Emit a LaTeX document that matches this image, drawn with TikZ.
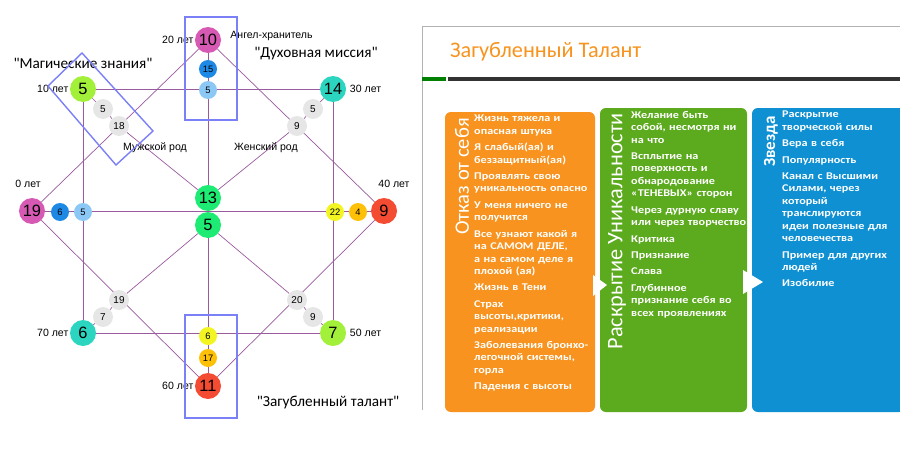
\documentclass[tikz,border=0pt]{standalone}
\usepackage{fontspec}
\setmainfont{Liberation Sans}
\newfontfamily\slidefont{Carlito}
\newfontfamily\slidewide[FakeStretch=1.18]{Carlito}
\usetikzlibrary{positioning,backgrounds}
\definecolor{cmag}{HTML}{D65AB4}
\definecolor{clime}{HTML}{A3F03A}
\definecolor{cteal}{HTML}{2CD5C0}
\definecolor{cred}{HTML}{F44B33}
\definecolor{cgreen}{HTML}{1EEB73}
\definecolor{cblue}{HTML}{1E88E5}
\definecolor{clblue}{HTML}{8CC8F5}
\definecolor{cyel}{HTML}{F2F522}
\definecolor{corange}{HTML}{FFC107}
\definecolor{cgray}{HTML}{E6E6E6}
\definecolor{cline}{HTML}{9A5A9E}
\definecolor{cframe}{HTML}{7C80F7}
\definecolor{boxor}{HTML}{F7931E}
\definecolor{boxgr}{HTML}{5CAA1E}
\definecolor{boxbl}{HTML}{0E90D2}
\tikzset{
  big/.style={circle, minimum size=0.78cm, inner sep=0pt, font=\fontsize{14}{14}\selectfont},
  small/.style={circle, minimum size=0.54cm, inner sep=0pt, font=\fontsize{8}{8}\selectfont},
  grey/.style={circle, fill=cgray, minimum size=0.6cm, inner sep=0pt, font=\fontsize{8.5}{8.5}\selectfont},
  age/.style={font=\fontsize{9}{9}\selectfont, inner sep=1pt},
  quote/.style={font=\slidefont\fontsize{13}{13}\selectfont, inner sep=1pt},
  link/.style={cline, line width=0.6pt},
  frame/.style={cframe, line width=1.2pt},
  panel/.style={rounded corners=5pt, draw=none},
  ptitle/.style={white, rotate=90, font=\slidefont\fontsize{17.5}{18}\selectfont, inner sep=0pt},
  plist/.style={white, anchor=north west, align=left, inner sep=0pt, font=\slidewide\bfseries\fontsize{8.8}{10.6}\selectfont},
  tri/.style={fill=white, draw=none}
}
\newcommand{\gap}{\par\vspace{3.4pt}}
\begin{document}
\begin{tikzpicture}[x=0.03cm, y=-0.03cm]
\useasboundingbox (0,0) rectangle (900,450);
% matrix nodes
\node (n10) [big, fill=cmag] at (208,40) {10};
\node (n15) [small, fill=cblue] at (208,69) {15};
\node (n5t) [small, fill=clblue] at (208,90) {5};
\node (n5l) [big, fill=clime] at (83,89) {5};
\node (n14) [big, fill=cteal] at (333,89) {14};
\node (n19) [big, fill=cmag] at (32,211) {19};
\node (n9) [big, fill=cred] at (384,211) {9};
\node (n6s) [small, fill=cblue] at (60,212) {6};
\node (n5s) [small, fill=clblue] at (83,212) {5};
\node (n22) [small, fill=cyel] at (335,212) {22};
\node (n4) [small, fill=corange] at (358,212) {4};
\node (n13) [big, fill=cgreen] at (208,198) {13};
\node (n5c) [big, fill=cgreen] at (208,225) {5};
\node (n6) [big, fill=cteal] at (83,333) {6};
\node (n7) [big, fill=clime] at (333,333) {7};
\node (n11) [big, fill=cred] at (208,386) {11};
\node (n6b) [small, fill=cyel] at (208,336) {6};
\node (n17) [small, fill=corange] at (208,358) {17};
\node (g5a) [grey] at (103,109) {5};
\node (g18) [grey] at (119,126) {18};
\node (g5b) [grey] at (313,109) {5};
\node (g9a) [grey] at (297,126) {9};
\node (g19) [grey] at (119,300) {19};
\node (g7) [grey] at (103,317) {7};
\node (g20) [grey] at (297,300) {20};
\node (g9b) [grey] at (313,317) {9};
% labels
\node (l20) [age, left=0pt of n10] {20 лет};
\node (lang) [age, anchor=west] at (229,36) {Ангел-хранитель};
\node (ldux) [quote] at (316,54) {"Духовная миссия"};
\node (lmag) [quote] at (83,63) {"Магические знания"};
\node (l10) [age, left=0pt of n5l] {10 лет};
\node (l30) [age, right=2pt of n14] {30 лет};
\node (lm) [age] at (155,148) {Мужской род};
\node (lw) [age] at (266,148) {Женский род};
\node (l0) [age] at (28,184) {0 лет};
\node (l40) [age] at (394,184) {40 лет};
\node (l70) [age, left=0pt of n6] {70 лет};
\node (l50) [age, right=2pt of n7] {50 лет};
\node (l60) [age, left=0pt of n11] {60 лет};
\node (lzag) [quote] at (328,403) {"Загубленный талант"};
% frames
\draw [frame] (185,17) rectangle (237,120);
\draw [frame] (185,315) rectangle (237,418);
\draw [frame] (48,86) -- (82,53) -- (153,131) -- (116,165) -- cycle;
% connectors
\begin{scope}[on background layer]
\draw [link] (n5l) -- (n14);
\draw [link] (n6) -- (n7);
\draw [link] (n5l) -- (n6);
\draw [link] (n14) -- (n7);
\draw [link] (n19) -- (n9);
\draw [link] (n10) -- (n11);
\draw [link] (n10) -- (n19) -- (n11) -- (n9) -- (n10);
\draw [link] (n5l) -- (g5a) -- (g18) -- (n13);
\draw [link] (n14) -- (g5b) -- (g9a) -- (n13);
\draw [link] (n6) -- (g7) -- (g19) -- (n5c);
\draw [link] (n7) -- (g9b) -- (g20) -- (n5c);
\end{scope}
% slide
\draw [gray!60, line width=0.8pt] (422,26) -- (900,26);
\draw [gray!60, line width=0.5pt] (422,26) -- (422,410);
\node (title) [anchor=west, text=boxor, font=\slidefont\fontsize{19}{20}\selectfont] at (446,52) {Загубленный Талант};
\draw [black!80, line width=3pt] (448,79) -- (900,79);
\draw [green!50!black, line width=3pt] (422,79) -- (446,79);
\fill [panel, fill=boxor] (445,112) rectangle (595,412);
\fill [panel, fill=boxgr] (600,108) rectangle (747,412);
\fill [panel, fill=boxbl] (752,108) rectangle (905,412);
\fill [tri] (593,275) -- (607,285) -- (593,296) -- cycle;
\fill [tri] (743,270) -- (763,282) -- (743,294) -- cycle;
\node (tor) [ptitle, anchor=east] at (462,118) {Отказ от себя};
\node (tgr) [ptitle, anchor=east, font=\slidefont\fontsize{19}{19}\selectfont] at (617,113) {Раскрытие Уникальности};
\node (tbl) [ptitle, anchor=east, font=\slidefont\bfseries\fontsize{14.5}{14.5}\selectfont] at (771,116) {Звезда};
\node (lor) [plist, text width=3.55cm] at (474,115) {Жизнь тяжела и опасная штука\gap
Я слабый(ая) и беззащитный(ая)\gap Проявлять свою уникальность опасно\gap
У меня ничего не получится\gap Все узнают какой я на САМОМ ДЕЛЕ, а на самом деле я плохой (ая)\gap
Жизнь в Тени\gap Страх высоты,критики, реализации\gap Заболевания бронхо-легочной системы, горла\gap
Падения с высоты};
\node (lgr) [plist, text width=3.45cm] at (631,111) {Желание быть собой, несмотря ни на что\gap
Всплытие на поверхность и обнародование «ТЕНЕВЫХ» сторон\gap Через дурную славу или через творчество\gap
Критика\gap Признание\gap Слава\gap Глубинное признание себя во всех проявлениях};
\node (lbl) [plist, text width=3.3cm] at (782,111) {Раскрытие творческой силы\gap Вера в себя\gap Популярность\gap
Канал с Высшими Силами, через который транслируются идеи полезные для человечества\gap
Пример для других людей\gap Изобилие};
\end{tikzpicture}
\end{document}
